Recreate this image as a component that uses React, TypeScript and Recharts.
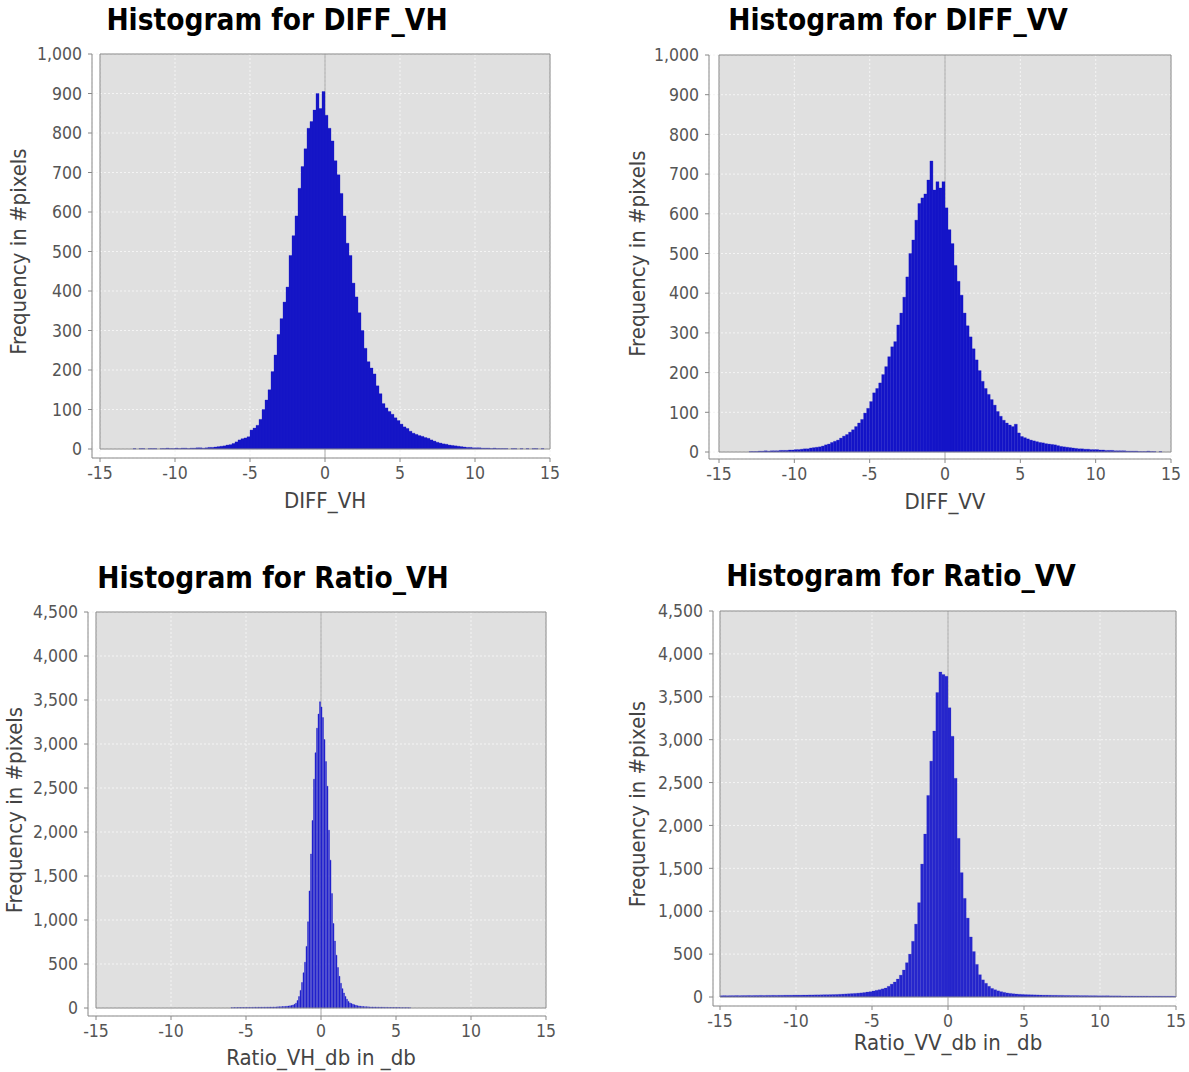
import React from "react";
import {
  BarChart,
  Bar,
  XAxis,
  YAxis,
  CartesianGrid,
  ReferenceArea,
  ReferenceLine,
} from "recharts";

const FONT = "'DejaVu Sans Condensed', 'DejaVu Sans', sans-serif";

const xTicks = [-15, -10, -5, 0, 5, 10, 15];
const diffTicks = [0, 100, 200, 300, 400, 500, 600, 700, 800, 900, 1000];
const ratioTicks = [0, 500, 1000, 1500, 2000, 2500, 3000, 3500, 4000, 4500];

// histogram counts, one value per bin
const diffVhStart = -12.9;
const diffVhBin = 0.2;
const diffVhCounts = [
  0, 1, 0, 1, 1, 0, 1, 1, 1, 0,
  1, 1, 2, 1, 1, 2, 1, 2, 2, 1,
  2, 2, 3, 3, 2, 3, 4, 4, 5, 6,
  7, 8, 10, 11, 14, 18, 23, 26, 28, 31,
  48, 53, 60, 75, 100, 124, 150, 196, 238, 290,
  330, 372, 410, 490, 540, 590, 660, 715, 760, 812,
  829, 858, 900, 862, 905, 845, 812, 780, 730, 694,
  647, 590, 521, 490, 420, 385, 345, 300, 255, 221,
  205, 190, 160, 140, 115, 104, 95, 88, 79, 72,
  63, 56, 52, 45, 40, 37, 34, 32, 29, 27,
  23, 20, 17, 15, 13, 12, 10, 9, 8, 7,
  6, 5, 4, 4, 3, 3, 3, 2, 2, 2,
  1, 2, 1, 1, 1, 1, 0, 1, 1, 0,
  1, 0, 1, 0, 1, 1, 0, 1, 0, 0,
];

const diffVvStart = -12.9;
const diffVvBin = 0.2;
const diffVvCounts = [
  1, 1, 1, 2, 2, 3, 2, 3, 3, 3,
  4, 4, 4, 5, 5, 6, 6, 7, 8, 8,
  10, 11, 12, 13, 15, 18, 20, 24, 27, 30,
  35, 40, 44, 50, 56, 64, 73, 82, 98, 110,
  127, 149, 160, 174, 195, 215, 240, 265, 278, 320,
  350, 390, 441, 500, 534, 584, 626, 640, 650, 685,
  733, 660, 681, 665, 681, 615, 560, 525, 470, 430,
  395, 350, 318, 290, 260, 232, 205, 178, 160, 145,
  132, 118, 102, 90, 80, 73, 68, 64, 70, 48,
  39, 36, 33, 30, 28, 26, 24, 23, 21, 20,
  19, 18, 16, 14, 13, 12, 11, 10, 9, 8,
  8, 7, 7, 6, 6, 6, 5, 5, 4, 4,
  4, 3, 3, 3, 3, 2, 2, 2, 2, 1,
  1, 1, 2, 1, 1, 0, 1, 0, 0, 0,
];

const ratioVhStart = -5.95;
const ratioVhBin = 0.1;
const ratioVhCounts = [
  4, 4, 5, 4, 5, 5, 5, 6, 5, 6,
  6, 6, 7, 6, 7, 7, 8, 7, 8, 8,
  8, 8, 9, 9, 9, 10, 10, 10, 11, 11,
  12, 13, 14, 15, 16, 17, 18, 20, 22, 25,
  28, 34, 42, 55, 85, 130, 200, 290, 400, 520,
  700, 980, 1330, 1750, 2130, 2600, 2900, 3180, 3340, 3480,
  3420, 3300, 3050, 2800, 2520, 2020, 1680, 1300, 960, 760,
  600, 460, 360, 280, 220, 170, 132, 100, 75, 58,
  50, 42, 36, 30, 26, 23, 20, 18, 16, 15,
  14, 13, 12, 11, 11, 10, 10, 9, 9, 8,
  8, 8, 7, 7, 7, 6, 6, 6, 6, 5,
  5, 5, 5, 4, 4, 4, 4, 4, 3, 3,
];

const ratioVvStart = -14.9;
const ratioVvBin = 0.2;
const ratioVvCounts = [
  15, 16, 15, 16, 16, 17, 16, 17, 17, 18,
  17, 18, 18, 19, 18, 19, 19, 20, 19, 20,
  20, 21, 21, 21, 22, 22, 22, 23, 23, 24,
  24, 25, 25, 26, 27, 27, 28, 29, 30, 32,
  34, 36, 38, 40, 42, 45, 48, 52, 58, 62,
  70, 78, 85, 95, 105, 125, 150, 175, 210, 255,
  315, 400, 500, 650, 850, 1100, 1550, 1900, 2350, 2750,
  3100, 3550, 3790, 3760, 3740, 3373, 3040, 2550, 1850, 1450,
  1150, 920, 700, 530, 380, 260, 200, 160, 125, 100,
  85, 72, 62, 54, 47, 42, 38, 35, 32, 30,
  28, 27, 26, 25, 24, 23, 22, 22, 21, 20,
  20, 19, 19, 18, 18, 17, 17, 17, 16, 16,
  16, 15, 15, 15, 14, 14, 14, 14, 13, 13,
  13, 13, 12, 12, 12, 12, 11, 11, 11, 11,
  11, 10, 10, 10, 10, 9, 9, 9, 9, 8,
];

const toBins = (start: number, width: number, counts: number[]) =>
  counts.map((v, i) => ({ x: Number((start + i * width).toFixed(3)), v }));

type Box = {
  ox: number; oy: number; w: number; h: number;
  axisX: number; plotLeft: number; plotRight: number; plotTop: number;
  zeroY: number; axisY: number;
  titleX: number; titleBase: number; yLabelX: number; xLabelBase: number;
};

const AXIS_H = 50;

type Props = {
  title: string;
  xLabel: string;
  data: { x: number; v: number }[];
  yTicks: number[];
  box: Box;
  fill: string;
  edge: number;
};

const Histogram = ({ title, xLabel, data, yTicks, box, fill, edge }: Props) => {
  const yMax = yTicks[yTicks.length - 1];
  const margin = {
    top: box.plotTop - box.oy,
    right: box.ox + box.w - box.plotRight,
    bottom: box.oy + box.h - box.axisY - AXIS_H,
    left: 0,
  };
  const xl = (box.plotLeft + box.plotRight) / 2 - box.ox;
  const xb = box.xLabelBase - box.oy;
  const yl = box.yLabelX - box.ox;
  const yc = (box.plotTop + box.zeroY) / 2 - box.oy;
  const tick = { fill: "#555", fontSize: 17.5, fontFamily: FONT };

  return (
    <div style={{ position: "absolute", left: box.ox, top: box.oy, width: box.w, height: box.h }}>
      <div
        style={{
          position: "absolute",
          left: box.titleX - box.ox - 300,
          width: 600,
          top: box.titleBase - box.oy - 28,
          textAlign: "center",
          fontFamily: FONT,
          fontWeight: "bold",
          fontSize: 29.5,
          lineHeight: "32px",
          whiteSpace: "nowrap",
          color: "#000",
        }}
      >
        {title}
      </div>
      <BarChart width={box.w} height={box.h} data={data} margin={margin} barCategoryGap={0} barGap={0}>
        <ReferenceArea x1={-15} x2={15} y1={0} y2={yMax} fill="#e0e0e0" fillOpacity={1} stroke="none" zIndex={-200} />
        <CartesianGrid stroke="#f4f4f4" strokeDasharray="2 2" />
        <XAxis
          dataKey="x"
          type="number"
          domain={[-15, 15]}
          ticks={xTicks}
          interval={0}
          padding={{ left: box.plotLeft - box.axisX, right: 0 }}
          height={AXIS_H}
          tickSize={4}
          tickMargin={5}
          stroke="#888"
          tick={tick}
          label={{
            content: () => (
              <text x={xl} y={xb} textAnchor="middle" fill="#444" fontSize={22} fontFamily={FONT}>
                {xLabel}
              </text>
            ),
          }}
        />
        <YAxis
          type="number"
          domain={[0, yMax]}
          ticks={yTicks}
          interval={0}
          width={box.axisX - box.ox}
          padding={{ top: 0, bottom: box.axisY - box.zeroY }}
          tickSize={4}
          tickMargin={6}
          stroke="#888"
          tick={tick}
          tickFormatter={(v: number) => v.toLocaleString("en-US")}
          label={{
            content: () => (
              <text
                x={yl}
                y={yc}
                transform={`rotate(-90 ${yl} ${yc})`}
                textAnchor="middle"
                dominantBaseline="central"
                fill="#444"
                fontSize={22}
                fontFamily={FONT}
              >
                Frequency in #pixels
              </text>
            ),
          }}
        />
        <ReferenceLine x={0} stroke="#a8a8a8" zIndex={-50} />
        <Bar dataKey="v" fill={fill} stroke={fill} strokeWidth={edge} isAnimationActive={false} />
        <ReferenceArea x1={-15} x2={15} y1={0} y2={yMax} fill="none" stroke="#888" zIndex={700} />
      </BarChart>
    </div>
  );
};

const boxes: Record<string, Box> = {
  vh: { ox: 0, oy: 0, w: 590, h: 535, axisX: 92, plotLeft: 100, plotRight: 550, plotTop: 54, zeroY: 449, axisY: 458, titleX: 277, titleBase: 32, yLabelX: 18, xLabelBase: 508 },
  vv: { ox: 595, oy: 0, w: 594, h: 535, axisX: 709, plotLeft: 719, plotRight: 1171, plotTop: 55, zeroY: 452, axisY: 459, titleX: 898, titleBase: 32, yLabelX: 637, xLabelBase: 509 },
  rvh: { ox: 0, oy: 545, w: 590, h: 527, axisX: 88, plotLeft: 96, plotRight: 546, plotTop: 612, zeroY: 1008, axisY: 1016, titleX: 273, titleBase: 590, yLabelX: 14, xLabelBase: 1065 },
  rvv: { ox: 595, oy: 545, w: 594, h: 527, axisX: 713, plotLeft: 720, plotRight: 1176, plotTop: 611, zeroY: 997, axisY: 1006, titleX: 901, titleBase: 588, yLabelX: 637, xLabelBase: 1050 },
};

export default function App() {
  return (
    <div style={{ position: "absolute", left: 0, top: 0, width: 1189, height: 1072, background: "#fff" }}>
      <Histogram title="Histogram for DIFF_VH" xLabel="DIFF_VH" data={toBins(diffVhStart, diffVhBin, diffVhCounts)} yTicks={diffTicks} box={boxes.vh} fill="#1616c6" edge={0.3} />
      <Histogram title="Histogram for DIFF_VV" xLabel="DIFF_VV" data={toBins(diffVvStart, diffVvBin, diffVvCounts)} yTicks={diffTicks} box={boxes.vv} fill="#1414c8" edge={0.3} />
      <Histogram title="Histogram for Ratio_VH" xLabel="Ratio_VH_db in _db" data={toBins(ratioVhStart, ratioVhBin, ratioVhCounts)} yTicks={ratioTicks} box={boxes.rvh} fill="#2222cc" edge={0.4} />
      <Histogram title="Histogram for Ratio_VV" xLabel="Ratio_VV_db in _db" data={toBins(ratioVvStart, ratioVvBin, ratioVvCounts)} yTicks={ratioTicks} box={boxes.rvv} fill="#2626cc" edge={0.2} />
    </div>
  );
}
